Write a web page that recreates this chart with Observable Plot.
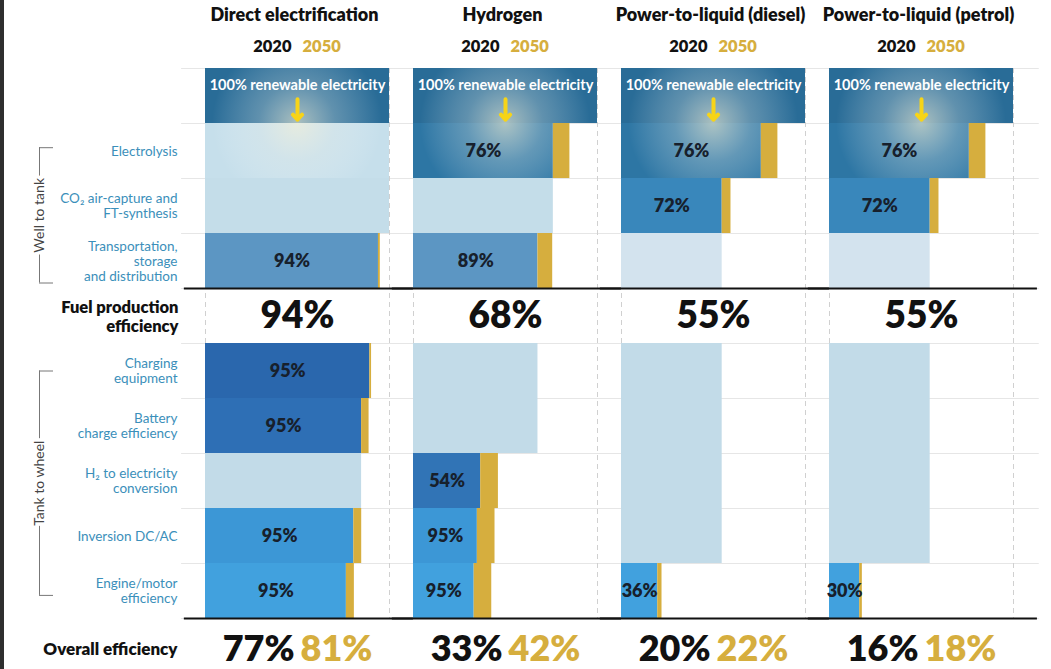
<!DOCTYPE html>
<html><head><meta charset="utf-8">
<script src="https://cdn.jsdelivr.net/npm/d3@7"></script>
<script src="https://cdn.jsdelivr.net/npm/@observablehq/plot@0.6"></script>
<style>
html,body{margin:0;padding:0;background:#fff;}
#chart{position:absolute;left:0;top:0;}
#edge{position:absolute;left:0;top:0;width:4px;height:669px;background:#2e2e2e;}
</style></head><body><div id="chart"></div><div id="edge"></div>
<script>
// ---------- data ----------
const panels = ["Direct electrification", "Hydrogen", "Power-to-liquid (diesel)", "Power-to-liquid (petrol)"];
const steps = ["Electrolysis", "CO₂ air-capture and\nFT-synthesis", "Transportation,\nstorage\nand distribution",
  "Charging\nequipment", "Battery\ncharge efficiency", "H₂ to electricity\nconversion", "Inversion DC/AC", "Engine/motor\nefficiency"];
const years = ["2020", "2050"];
const sourceLabel = "100% renewable electricity";
const fuelLabel = "Fuel production\nefficiency";
const overallLabel = "Overall efficiency";
const stages = ["Well to tank", "Tank to wheel"];

// step efficiencies (%), null = step not used
const direct2020   = [null, null, 94, 95, 95, null, 95, 95];
const hydrogen2020 = [76, null, 89, null, null, 54, 95, 95];
const diesel2020   = [76, 72, null, null, null, null, null, 36];
const petrol2020   = [76, 72, null, null, null, null, null, 30];
const direct2050   = [null, null, 95, 95, 98.5, null, 95.5, 95.3];
const hydrogen2050 = [85, null, 89, null, null, 61, 96, 96];
const diesel2050   = [85, 70, null, null, null, null, null, 37];
const petrol2050   = [85, 70, null, null, null, null, null, 30];
const fuelEfficiency = [94, 68, 55, 55];
const overall2020 = [77, 33, 20, 16];
const overall2050 = [81, 42, 22, 18];

// ---------- styles ----------
const activeColors = ["#2d76a4", "#3987bb", "#5c96c3", "#2a67ad", "#2e6fb5", "#3174b6", "#3c97d6", "#41a1de"];
const paleColors   = ["#c6dfeb", "#c4dde9", "#d3e3ee", "#c2dbe8", "#c2dbe8", "#c2dbe8", "#c2dbe8", "#c2dbe8"];
const sourceColor = "#296c97";
const gold = "#d6ae3e";
const labelBlue = "#3b8fba";
const FONT = "Lato, 'Open Sans', sans-serif";

// ---------- derived tables ----------
const steps2020 = [direct2020, hydrogen2020, diesel2020, petrol2020];
const steps2050 = [direct2050, hydrogen2050, diesel2050, petrol2050];
const rowOf = s => (s < 3 ? s + 1 : s + 2);   // row 0 = source, row 4 = fuel production, row 10 = overall
const FUEL_ROW = 4, LAST_ROW = 10;

const bars = [], goldBars = [], barLabels = [], glowBars = [];
panels.forEach((panel, p) => {
  let c20 = 100, c50 = 100;
  bars.push({panel, y1: 0, y2: 1, x2: 100, fill: sourceColor});
  glowBars.push({panel, y1: 0, y2: 1, x2: 100});
  steps.forEach((step, s) => {
    const row = rowOf(s);
    const e20 = steps2020[p][s], e50 = steps2050[p][s];
    if (e20 == null) {
      bars.push({panel, y1: row, y2: row + 1, x2: c20, fill: paleColors[s]});
    } else {
      c20 = c20 * e20 / 100; c50 = c50 * e50 / 100;
      bars.push({panel, y1: row, y2: row + 1, x2: c20, fill: activeColors[s]});
      goldBars.push({panel, y1: row, y2: row + 1, x1: c20, x2: c50});
      barLabels.push({panel, y: row + 0.5, x: c20 / 2, text: e20 + "%"});
    }
    if (s === 0) glowBars.push({panel, y1: row, y2: row + 1, x2: c20});
  });
});
const panelRows = panels.map((panel, p) => ({panel, fuel: fuelEfficiency[p] + "%", o20: overall2020[p] + "%", o50: overall2050[p] + "%"}));
const stepLabelRows = steps.map((t, s) => ({text: t, y: rowOf(s) + 0.5}));
const bracketSpans = [{stage: stages[0], y1: 1.44, y2: 3.9}, {stage: stages[1], y1: 5.5, y2: 9.58}];
const gridRows = d3.range(0, LAST_ROW + 1);

const chart = Plot.plot({
  width: 1051, height: 669,
  marginTop: 68, marginBottom: 51, marginLeft: 204, marginRight: 37,
  style: {fontFamily: FONT, background: "#fff"},
  fx: {domain: panels, paddingInner: 0.115, paddingOuter: 0, axis: null},
  x: {domain: [0, 100], axis: null},
  y: {domain: [0, LAST_ROW], reverse: true, axis: null},
  marks: [
    // grid
    Plot.ruleY(gridRows, {y: d => d, x1: () => -13, x2: () => 114, stroke: "#e6e6e6", strokeWidth: 1}),
    Plot.ruleX([0, 100], {x: d => d, y1: () => 0, y2: () => LAST_ROW, stroke: "#d0d0d0", strokeDasharray: "5,4"}),
    // bars
    Plot.rect(bars, {fx: "panel", x1: () => 0, x2: "x2", y1: "y1", y2: "y2", fill: "fill"}),
    Plot.rect(goldBars, {fx: "panel", x1: "x1", x2: "x2", y1: "y1", y2: "y2", fill: gold}),
    Plot.rect(glowBars, {fx: "panel", x1: () => 0, x2: "x2", y1: "y1", y2: "y2", fill: "url(#glow)"}),
    // thick rules
    Plot.ruleY([FUEL_ROW, LAST_ROW], {y: d => d, x1: () => -11.5, x2: () => 113, stroke: "#111", strokeWidth: 2}),
    // source text + arrow
    Plot.text(panelRows, {fx: "panel", frameAnchor: "top", lineAnchor: "middle", dy: 17, text: () => sourceLabel, fill: "#fff", fontSize: 14.5, fontWeight: 700}),
    Plot.arrow(panelRows, {fx: "panel", x1: () => 50, x2: () => 50, y1: () => 0.56, y2: () => 0.93, stroke: "#f7d417", strokeWidth: 4, headLength: 9, headAngle: 85}),
    // bar labels
    Plot.text(barLabels, {fx: "panel", x: "x", y: "y", text: "text", fontSize: 18, fontWeight: 800, fill: "#17202c"}),
    // fuel + overall
    Plot.text(panelRows, {fx: "panel", x: () => 50, y: () => FUEL_ROW + 0.5, text: "fuel", fontSize: 37, fontWeight: 800, fill: "#111"}),
    Plot.text(panelRows, {fx: "panel", x: () => 50, y: () => LAST_ROW + 0.5, dy: 3, dx: -3, textAnchor: "end", text: "o20", fontSize: 36, fontWeight: 800, fill: "#111"}),
    Plot.text(panelRows, {fx: "panel", x: () => 50, y: () => LAST_ROW + 0.5, dy: 3, dx: 3, textAnchor: "start", text: "o50", fontSize: 36, fontWeight: 800, fill: gold}),
    // headers
    Plot.text(panelRows, {fx: "panel", frameAnchor: "top", lineAnchor: "middle", dy: -53, dx: -3, text: "panel", fontSize: 18, fontWeight: 800, fill: "#111"}),
    Plot.text(panelRows, {fx: "panel", frameAnchor: "top", lineAnchor: "middle", dy: -22, dx: -6, textAnchor: "end", text: () => years[0], fontSize: 16.5, fontWeight: 800, fill: "#111"}),
    Plot.text(panelRows, {fx: "panel", frameAnchor: "top", lineAnchor: "middle", dy: -22, dx: 5, textAnchor: "start", text: () => years[1], fontSize: 16.5, fontWeight: 800, fill: gold}),
    // left labels
    Plot.text(stepLabelRows, {fx: () => panels[0], frameAnchor: "left", y: "y", dx: -28, textAnchor: "end", text: "text", fill: labelBlue, fontSize: 13.5, lineHeight: 1.1}),
    Plot.text([fuelLabel], {fx: () => panels[0], frameAnchor: "left", y: () => FUEL_ROW + 0.5, dx: -27, textAnchor: "end", text: d => d, fill: "#111", fontSize: 16.5, fontWeight: 800, lineHeight: 1.18}),
    Plot.text([overallLabel], {fx: () => panels[0], frameAnchor: "left", y: () => LAST_ROW + 0.5, dy: 4, dx: -28, textAnchor: "end", text: d => d, fill: "#111", fontSize: 17, fontWeight: 800}),
    // brackets
    Plot.ruleX(bracketSpans, {fx: () => panels[0], x: () => 0, y1: "y1", y2: "y2", dx: -166, stroke: "#777"}),
    Plot.ruleY(bracketSpans.flatMap(b => [b.y1, b.y2]), {fx: () => panels[0], y: d => d, x1: () => 0, x2: () => 0, dx: -166, insetRight: -14, stroke: "#777"}),
    Plot.text(bracketSpans, {fx: () => panels[0], x: () => 0, y: d => (d.y1 + d.y2) / 2, dx: -166, rotate: -90, text: "stage", fill: "#444", fontSize: 14, stroke: "#fff", strokeWidth: 7, paintOrder: "stroke"})
  ]
});

// glow gradient placed with the chart's own scales
const xs = chart.scale("x"), ys = chart.scale("y");
const svg = d3.select(chart.tagName === "svg" ? chart : chart.querySelector("svg"));
const defs = svg.insert("defs", ":first-child");
const g = defs.append("radialGradient").attr("id", "glow").attr("gradientUnits", "userSpaceOnUse")
  .attr("cx", xs.apply(50)).attr("cy", ys.apply(1)).attr("r", 85);
g.append("stop").attr("offset", 0).attr("stop-color", "#fbf3d6").attr("stop-opacity", 0.62);
g.append("stop").attr("offset", 0.45).attr("stop-color", "#eef0e8").attr("stop-opacity", 0.28);
g.append("stop").attr("offset", 1).attr("stop-color", "#ffffff").attr("stop-opacity", 0);
document.getElementById("chart").append(chart);
</script></body></html>
